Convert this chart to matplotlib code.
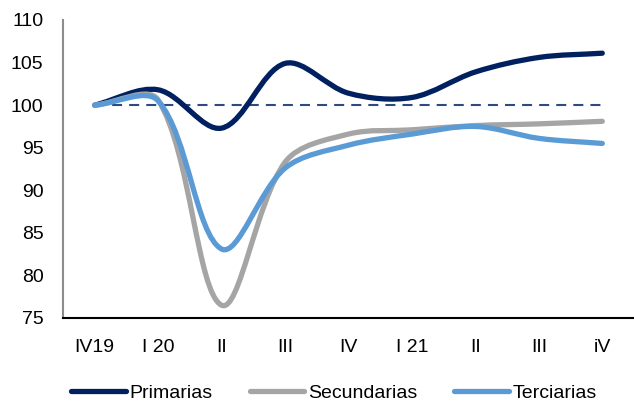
import numpy as np
import matplotlib.pyplot as plt
from matplotlib.path import Path
from matplotlib.patches import PathPatch
from matplotlib.lines import Line2D

plt.rcParams['font.family'] = ['Liberation Sans', 'DejaVu Sans']

quarters = ['IV19', 'I 20', 'II', 'III', 'IV', 'I 21', 'II', 'III', 'iV']
primarias = [100.0, 101.8, 97.3, 104.9, 101.4, 100.9, 103.9, 105.6, 106.1]
secundarias = [100.0, 100.6, 76.5, 93.3, 96.6, 97.1, 97.6, 97.8, 98.1]
terciarias = [100.0, 100.5, 83.1, 92.6, 95.3, 96.6, 97.5, 96.1, 95.5]
base = 100

navy = '#002060'
grey = '#A5A5A5'
blue = '#5B9BD5'


def smooth_path(ax, xs, ys, tension=1 / 3):
    # chord-weighted bezier smoothing done in screen space
    to_px = ax.transData
    pts = to_px.transform(np.column_stack([xs, ys]).astype(float))
    n = len(pts)
    d = np.hypot(*np.diff(pts, axis=0).T)
    verts = [pts[0]]
    codes = [Path.MOVETO]
    for i in range(n - 1):
        p1, p2 = pts[i], pts[i + 1]
        p0 = pts[i - 1] if i > 0 else p1
        p3 = pts[i + 2] if i + 2 < n else p2
        dl = d[i - 1] if i > 0 else 0.0
        dr = d[i + 1] if i + 2 < n else 0.0
        c1 = p1 + tension * (p2 - p0) * d[i] / (dl + d[i])
        c2 = p2 - tension * (p3 - p1) * d[i] / (d[i] + dr)
        verts += [c1, c2, p2]
        codes += [Path.CURVE4] * 3
    verts = to_px.inverted().transform(np.array(verts))
    return Path(verts, codes)


fig = plt.figure(figsize=(6.34, 4.08), dpi=100)
ax = fig.add_axes([0.0994, 0.2206, 0.9006, 0.7304])

x = np.arange(len(quarters))
ax.set_xlim(-0.5, len(quarters) - 0.5)
ax.set_ylim(75, 110)

ax.plot([x[0], x[-1]], [base, base], color='#2F4A7F', lw=1.5,
        dashes=(4.8, 3.4), zorder=1)

series = [(primarias, navy, 'Primarias'),
          (secundarias, grey, 'Secundarias'),
          (terciarias, blue, 'Terciarias')]
handles = []
for vals, col, name in series:
    patch = PathPatch(smooth_path(ax, x, vals), facecolor='none', edgecolor=col,
                      lw=3.8, capstyle='round', joinstyle='round', zorder=3)
    ax.add_patch(patch)
    handles.append(Line2D([], [], color=col, lw=3.8, solid_capstyle='round',
                          label=name))

ax.set_yticks(np.arange(75, 111, 5))
ax.set_xticks(x)
ax.set_xticklabels(quarters)
ax.tick_params(axis='both', length=0, labelsize=14)
ax.tick_params(axis='x', pad=15)
ax.tick_params(axis='y', pad=14)

for s in ['top', 'right']:
    ax.spines[s].set_visible(False)
ax.spines['left'].set_color('#8C8C8C')
ax.spines['left'].set_linewidth(1.5)
ax.spines['bottom'].set_color('black')
ax.spines['bottom'].set_linewidth(1.5)

fig.legend(handles=handles, loc='center', bbox_to_anchor=(0.527, 0.037),
           ncol=3, frameon=False, fontsize=14, handlelength=2.8,
           handletextpad=0.2, columnspacing=1.9)

fig.savefig('out.png', dpi=100)
